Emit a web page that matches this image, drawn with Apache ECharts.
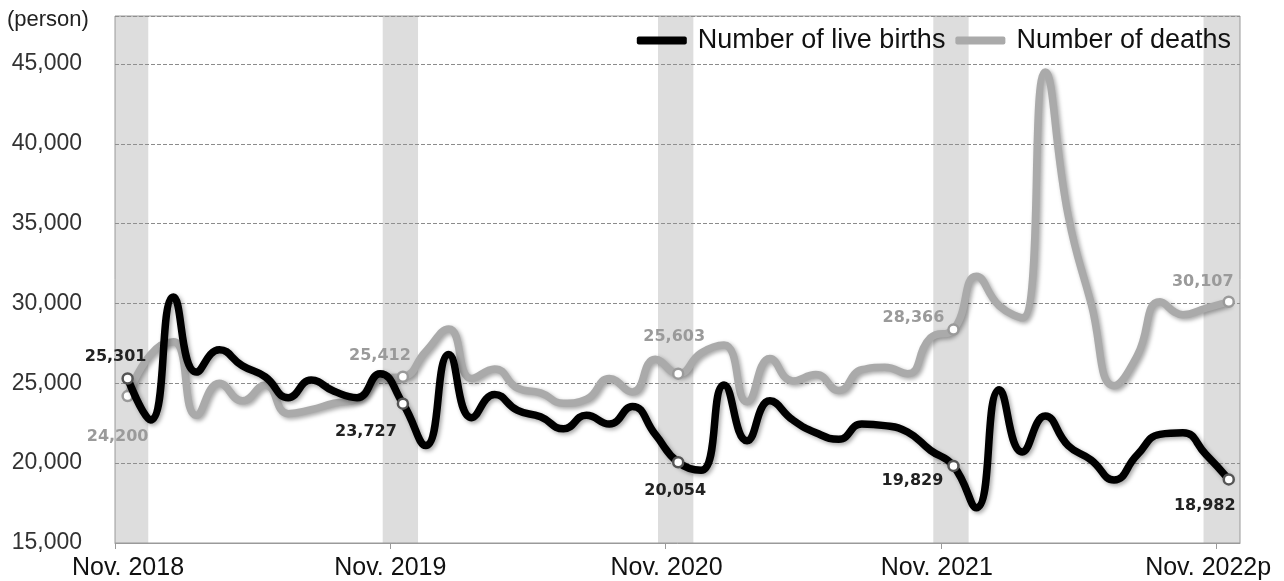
<!DOCTYPE html>
<html><head><meta charset="utf-8">
<script src="https://cdn.jsdelivr.net/npm/echarts@6/dist/echarts.min.js"></script>
<style>html,body{margin:0;padding:0;background:#fff}#c{width:1284px;height:581px}</style>
</head><body><div id="c"></div>
<script>
// Months (Nov. 2018 .. Nov. 2022p)
const months = [
  '2018-11','2018-12','2019-01','2019-02','2019-03','2019-04','2019-05','2019-06','2019-07','2019-08','2019-09','2019-10',
  '2019-11','2019-12','2020-01','2020-02','2020-03','2020-04','2020-05','2020-06','2020-07','2020-08','2020-09','2020-10',
  '2020-11','2020-12','2021-01','2021-02','2021-03','2021-04','2021-05','2021-06','2021-07','2021-08','2021-09','2021-10',
  '2021-11','2021-12','2022-01','2022-02','2022-03','2022-04','2022-05','2022-06','2022-07','2022-08','2022-09','2022-10',
  '2022-11'
];
const births = [
  25301, 22700, 30400, 25700, 27100, 26100, 25400, 24100, 25200, 24500, 24100, 25600,
  23727, 21100, 26800, 22850, 24300, 23300, 22900, 22150, 23000, 22450, 23550, 21800,
  20054, 19550, 24900, 21400, 23900, 22700, 21900, 21500, 22450, 22350, 21950, 20800,
  19829, 17200, 24600, 20700, 22950, 21100, 20200, 18950, 20500, 21800, 21900, 20550,
  18982
];
const deaths = [
  24200, 26800, 27600, 23000, 25000, 23900, 24900, 23100, 23350, 23750, 24000, 25300,
  25412, 27000, 28400, 25300, 25900, 24700, 24400, 23750, 24000, 25300, 24450, 26500,
  25603, 26900, 27400, 23850, 26550, 25150, 25550, 24550, 25850, 26000, 25600, 27850,
  28366, 31700, 29850, 29100, 44500, 35500, 30000, 24850, 26700, 30100, 29300, 29700,
  30107
];
const tickLabels = ['Nov. 2018','Nov. 2019','Nov. 2020','Nov. 2021','Nov. 2022p'];
const seriesNames = ['Number of live births','Number of deaths'];

// layout / style (not data)
const X_OFFSET = 0.55;   // points sit a little right of the year ticks
const tickLabelPad = [[0,0,0,26],[0,0,0,0],[0,0,0,2],[0,8,0,0],[0,16,0,0]];
const birthLabelOffsets = [[-12,-22],[-37,28],[-3,29],[-41,15],[-24,26]];
const deathLabelOffsets = [[-10,41],[-23,-21],[-4,-37],[-40,-12],[-26,-20]];

function build(values, labelOffsets, labelColor, borderColor) {
  return values.map((v, i) => {
    const item = { value: [i + X_OFFSET, v] };
    if (i % 12 === 0) {
      const k = i / 12;
      item.symbolSize = 10;
      item.itemStyle = { color: '#fff', borderColor: borderColor, borderWidth: 2.5 };
      item.label = {
        show: true, position: 'inside', offset: labelOffsets[k],
        formatter: (p) => p.value[1].toLocaleString('en-US'),
        color: labelColor, fontFamily: 'DejaVu Sans', fontWeight: 'bold', fontSize: 16
      };
    }
    return item;
  });
}

const bands = [];
for (let i = 0; i < months.length; i++) {
  if (i % 12 === 0) {
    const x = i + X_OFFSET;
    const s = (i === 48) ? x - 1.1 : x - 0.88;
    const e = (i === 0) ? x + 0.9 : x + 0.66;
    bands.push([{ xAxis: Math.max(0, s) }, { xAxis: Math.min(49.04, e) }]);
  }
}

const rich = {};
tickLabels.forEach((t, k) => {
  rich['t' + k] = { padding: tickLabelPad[k], fontFamily: 'Liberation Sans', fontSize: 25, color: '#111' };
});

const shadow = { shadowColor: 'rgba(0,0,0,0.35)', shadowBlur: 4, shadowOffsetX: 2, shadowOffsetY: 2 };

const chart = echarts.init(document.getElementById('c'), null, { renderer: 'canvas' });
chart.setOption({
  animation: false,
  backgroundColor: '#fff',
  grid: { left: 115, right: 44, top: 16, bottom: 37, show: true, borderColor: '#9a9a9a', borderWidth: 1 },
  graphic: [{ type: 'text', left: 7, top: 9, style: { text: '(person)', font: '22px "Liberation Sans", Arial, sans-serif', fill: '#222' } }],
  legend: {
    data: seriesNames, right: 48, top: 22, itemWidth: 50, itemHeight: 8, itemGap: 10,
    icon: 'roundRect',
    textStyle: { fontFamily: 'Liberation Sans', fontSize: 27, color: '#111', padding: [0, 0, 0, 6] }
  },
  xAxis: {
    type: 'value', min: 0, max: 49.04, interval: 12,
    axisLine: { show: true, lineStyle: { color: '#9a9a9a', width: 1 } },
    axisTick: { show: true, length: 6, lineStyle: { color: '#9a9a9a' } },
    splitLine: { show: false },
    axisLabel: {
      margin: 13, fontFamily: 'Liberation Sans', fontSize: 25, color: '#111',
      showMaxLabel: false, rich: rich,
      formatter: (v) => {
        if (Math.abs(v % 12) > 1e-6) return '';
        const k = Math.round(v / 12);
        return tickLabels[k] ? '{t' + k + '|' + tickLabels[k] + '}' : '';
      }
    }
  },
  yAxis: {
    type: 'value', min: 15000, max: 48000, interval: 5000,
    axisLine: { show: false }, axisTick: { show: false },
    splitLine: { show: true, lineStyle: { color: '#8c8c8c', type: [4, 2], width: 1 } },
    axisLabel: {
      margin: 33, fontFamily: 'Liberation Sans', fontSize: 23, color: '#333', showMaxLabel: false,
      formatter: (v) => (v % 5000 === 0 ? v.toLocaleString('en-US') : '')
    }
  },
  series: [
    {
      name: seriesNames[1], type: 'line', smooth: 0.5,
      symbol: 'circle', symbolSize: 0, showAllSymbol: true,
      color: '#aaaaaa',
      lineStyle: Object.assign({ color: '#aaaaaa', width: 7.5 }, shadow),
      itemStyle: { color: '#aaaaaa' },
      emphasis: { disabled: true },
      data: build(deaths, deathLabelOffsets, '#9a9a9a', '#9a9a9a'),
      markArea: { silent: true, itemStyle: { color: 'rgba(150,150,150,0.32)' }, data: bands },
      z: 2
    },
    {
      name: seriesNames[0], type: 'line', smooth: 0.5,
      symbol: 'circle', symbolSize: 0, showAllSymbol: true,
      color: '#000',
      lineStyle: Object.assign({ color: '#000', width: 7.5 }, shadow),
      itemStyle: { color: '#000' },
      emphasis: { disabled: true },
      data: build(births, birthLabelOffsets, '#222', '#555'),
      z: 3
    }
  ]
});
</script>
</body></html>
